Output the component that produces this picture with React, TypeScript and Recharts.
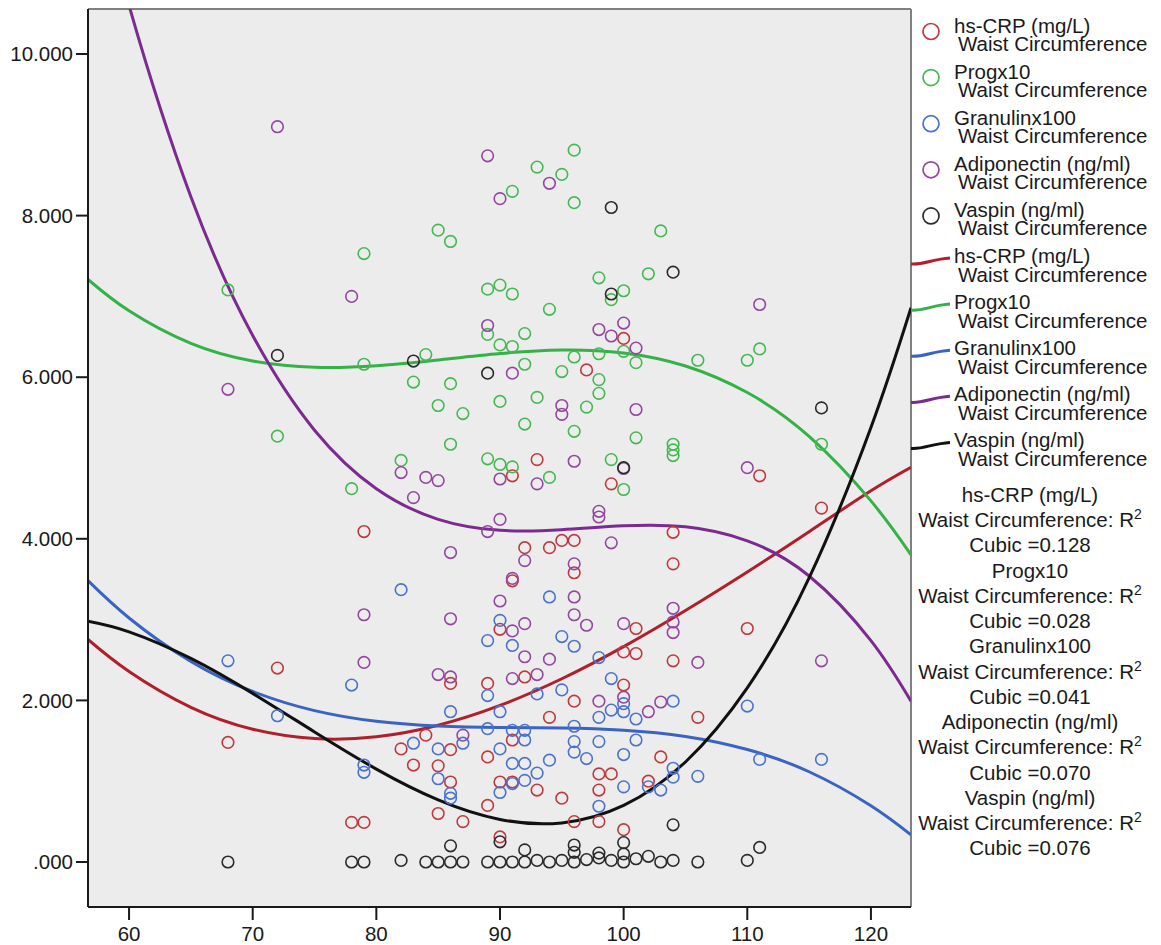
import React from 'react'
import { ComposedChart, Scatter, Line, XAxis, YAxis, CartesianGrid, ReferenceLine } from 'recharts'

// axis setup
const xTicks = [60, 70, 80, 90, 100, 110, 120]
const yTicks = [0, 2, 4, 6, 8, 10]
const xDomain = [56.68, 123.24]
const yDomain = [-0.557, 10.557]

const seriesNames = ['hs-CRP (mg/L)', 'Progx10', 'Granulinx100', 'Adiponectin (ng/ml)', 'Vaspin (ng/ml)']
const rSquared = ['0.128', '0.028', '0.041', '0.070', '0.076']
const dotColors = ['#c1393e', '#45b853', '#4a72cf', '#93479f', '#2a2a2a']
const lineColors = ['#b01f2c', '#34b248', '#3a63c2', '#7b2b8f', '#111111']

// scatter points: [waist circumference, value]
const crpPoints = [
  [68, 1.48], [72, 2.4], [78, 0.49], [79, 0.49], [79, 4.09], [82, 1.4], [83, 1.2], [84, 1.57], [85, 1.19], [85, 0.6],
  [86, 2.21], [86, 1.39], [86, 0.99], [87, 0.5], [89, 2.21], [89, 1.3], [89, 0.7], [90, 2.88], [90, 0.99], [90, 0.31],
  [91, 4.78], [91, 3.48], [91, 1.51], [91, 0.99], [92, 3.89], [92, 2.29], [93, 4.98], [93, 0.89], [94, 3.89], [94, 1.79],
  [95, 3.98], [95, 0.79], [96, 3.98], [96, 3.58], [96, 1.99], [96, 0.5], [97, 6.09], [98, 1.09], [98, 0.89], [98, 0.5],
  [99, 4.68], [99, 1.09], [100, 6.48], [100, 2.6], [100, 2.19], [100, 0.4], [101, 2.89], [101, 2.58], [102, 1.0], [103, 1.3],
  [104, 4.08], [104, 3.69], [104, 2.49], [106, 1.79], [110, 2.89], [111, 4.78], [116, 4.38],
]
const progPoints = [
  [68, 7.08], [72, 5.27], [78, 4.62], [79, 7.53], [79, 6.16], [82, 4.97], [83, 5.94], [84, 6.28], [85, 7.82], [85, 5.65],
  [86, 7.68], [86, 5.92], [86, 5.17], [87, 5.55], [89, 7.09], [89, 6.53], [89, 4.99], [90, 7.14], [90, 6.4], [90, 5.7],
  [90, 4.92], [91, 8.3], [91, 7.03], [91, 6.38], [91, 4.89], [92, 6.54], [92, 6.16], [92, 5.42], [93, 8.6], [93, 5.75],
  [94, 6.84], [94, 4.76], [95, 8.51], [95, 6.07], [96, 8.81], [96, 8.16], [96, 6.25], [96, 5.33], [97, 5.63], [98, 7.23],
  [98, 6.29], [98, 5.97], [98, 5.8], [99, 6.96], [99, 4.98], [100, 7.07], [100, 6.32], [100, 4.61], [101, 6.18], [101, 5.25],
  [102, 7.28], [103, 7.81], [104, 5.17], [104, 5.1], [104, 5.03], [106, 6.21], [110, 6.21], [111, 6.35], [116, 5.17],
]
const granPoints = [
  [68, 2.49], [72, 1.81], [78, 2.19], [79, 1.2], [79, 1.11], [82, 3.37], [83, 1.47], [85, 1.4], [85, 1.03], [86, 1.86],
  [86, 0.85], [86, 0.79], [87, 1.47], [89, 2.74], [89, 2.06], [89, 1.65], [90, 2.99], [90, 1.86], [90, 1.4], [90, 0.86],
  [91, 2.68], [91, 1.63], [91, 1.22], [91, 0.97], [92, 1.63], [92, 1.51], [92, 1.22], [92, 1.01], [93, 2.08], [93, 1.1],
  [94, 3.28], [94, 1.26], [95, 2.79], [95, 2.13], [96, 2.67], [96, 1.68], [96, 1.49], [96, 1.36], [97, 1.28], [98, 2.53],
  [98, 1.79], [98, 1.49], [98, 0.69], [99, 2.27], [99, 1.88], [100, 1.96], [100, 1.86], [100, 1.33], [100, 0.93], [101, 1.77],
  [101, 1.51], [102, 0.93], [103, 0.89], [104, 1.99], [104, 1.16], [104, 1.05], [106, 1.06], [110, 1.93], [111, 1.27], [116, 1.27],
]
const adipoPoints = [
  [68, 5.85], [72, 9.1], [78, 7.0], [79, 3.06], [79, 2.47], [82, 4.82], [83, 4.51], [84, 4.76], [85, 4.72], [85, 2.32],
  [86, 3.83], [86, 3.01], [86, 2.29], [87, 1.57], [89, 8.74], [89, 6.64], [89, 4.09], [90, 8.21], [90, 4.74], [90, 4.24],
  [90, 3.23], [91, 6.05], [91, 3.51], [91, 2.86], [91, 2.27], [92, 3.73], [92, 2.95], [92, 2.54], [93, 4.68], [93, 2.32],
  [94, 8.4], [94, 2.51], [95, 5.65], [95, 5.54], [96, 4.96], [96, 3.69], [96, 3.28], [96, 3.06], [97, 2.93], [98, 6.59],
  [98, 4.34], [98, 4.27], [98, 1.99], [99, 6.51], [99, 3.95], [100, 6.67], [100, 4.87], [100, 2.95], [100, 2.04], [101, 6.36],
  [101, 5.6], [102, 1.86], [103, 1.98], [104, 3.14], [104, 2.97], [104, 2.84], [106, 2.47], [110, 4.88], [111, 6.9], [116, 2.49],
]
const vaspinPoints = [
  [68, 0], [72, 6.27], [78, 0], [79, 0], [82, 0.02], [83, 6.2], [84, 0], [85, 0], [86, 0], [86, 0.2],
  [87, 0], [89, 6.05], [89, 0], [90, 0], [90, 0.25], [91, 0], [92, 0], [92, 0.15], [93, 0.02], [94, 0],
  [95, 0.02], [96, 0], [96, 0.12], [96, 0.21], [97, 0.03], [98, 0.05], [98, 0.11], [99, 8.1], [99, 7.03], [99, 0.02],
  [100, 4.88], [100, 0], [100, 0.1], [100, 0.24], [101, 0.04], [102, 0.07], [103, 0], [104, 7.3], [104, 0.46], [104, 0.02],
  [106, 0], [110, 0.02], [111, 0.18], [116, 5.62],
]

// cubic fit curves (smoothed readings)
const fitX = [56.68, 60, 65, 70, 75, 80, 85, 90, 95, 100, 105, 110, 115, 120, 123.24]
const crpFit = [2.754, 2.357, 1.914, 1.643, 1.528, 1.55, 1.693, 1.938, 2.268, 2.666, 3.113, 3.59, 4.088, 4.594, 4.885]
const progFit = [7.21, 6.821, 6.418, 6.2, 6.123, 6.142, 6.213, 6.293, 6.337, 6.3, 6.139, 5.81, 5.268, 4.469, 3.802]
const granFit = [3.482, 3.02, 2.482, 2.11, 1.873, 1.741, 1.682, 1.665, 1.659, 1.632, 1.554, 1.392, 1.117, 0.696, 0.336]
const adipoFit = [12.57, 10.6, 8.233, 6.515, 5.344, 4.62, 4.241, 4.105, 4.112, 4.16, 4.148, 3.975, 3.54, 2.74, 1.99]
const vaspinFit = [2.98, 2.849, 2.52, 2.087, 1.61, 1.15, 0.769, 0.527, 0.484, 0.7, 1.238, 2.155, 3.516, 5.378, 6.86]

const allPoints = [crpPoints, progPoints, granPoints, adipoPoints, vaspinPoints]
const allFits = [crpFit, progFit, granFit, adipoFit, vaspinFit]

const FONT = '"Liberation Sans", Arial, sans-serif'
const TEXT = '#1a1a1a'

const ring = (color: string) => (props: any) => (
  <circle cx={props.cx} cy={props.cy} r={5.8} fill="none" stroke={color} strokeWidth={1.6} />
)

function SideLegend() {
  const step = 46.1
  const r2Step = 25.24
  return (
    <svg width={1161} height={945} style={{ position: 'absolute', left: 0, top: 0, pointerEvents: 'none' }}>
      <g fontFamily={FONT} fontSize={20.5} fill={TEXT}>
        {seriesNames.map((name, i) => {
          const b = 32.5 + step * i
          return (
            <g key={'d' + i}>
              <circle cx={931} cy={b - 1} r={8} fill="none" stroke={dotColors[i]} strokeWidth={1.7} />
              <text x={954} y={b}>{name}</text>
              <text x={958} y={b + 18.5}>Waist Circumference</text>
            </g>
          )
        })}
        {seriesNames.map((name, i) => {
          const b = 32.5 + step * (i + 5)
          const y0 = b - 2
          return (
            <g key={'l' + i}>
              <path d={`M911,${y0 + 3} C923,${y0 + 4} 933,${y0 - 2} 950,${y0 - 3}`} fill="none" stroke={lineColors[i]} strokeWidth={3} />
              <text x={954} y={b}>{name}</text>
              <text x={958} y={b + 18.5}>Waist Circumference</text>
            </g>
          )
        })}
        {seriesNames.map((name, i) => {
          const b = 502 + r2Step * 3 * i
          return (
            <g key={'r' + i} textAnchor="middle">
              <text x={1030} y={b}>{name}</text>
              <text x={1030} y={b + r2Step}>
                Waist Circumference: R
                <tspan fontSize={14} dy={-8}>2</tspan>
              </text>
              <text x={1030} y={b + r2Step * 2}>Cubic ={rSquared[i]}</text>
            </g>
          )
        })}
      </g>
    </svg>
  )
}

export default function App() {
  const tick = { fill: TEXT, fontSize: 20.5, fontFamily: FONT }
  const axisStyle = { stroke: '#1a1a1a', strokeWidth: 2 }
  return (
    <div style={{ position: 'fixed', left: 0, top: 0, width: 1161, height: 945, background: '#fff' }}>
      <ComposedChart width={1161} height={945} margin={{ top: 9, right: 250, bottom: 0, left: 0 }}>
        <CartesianGrid fill="#ececec" horizontal={false} vertical={false} />
        <XAxis
          type="number"
          dataKey="x"
          domain={xDomain}
          ticks={xTicks}
          allowDataOverflow
          height={38}
          tick={tick}
          tickSize={13}
          tickMargin={6}
          axisLine={axisStyle}
          tickLine={axisStyle}
        />
        <YAxis
          type="number"
          dataKey="y"
          domain={yDomain}
          ticks={yTicks}
          allowDataOverflow
          width={88}
          tick={tick}
          tickSize={12}
          tickMargin={3}
          axisLine={axisStyle}
          tickLine={axisStyle}
          tickFormatter={(v: number) => (v === 0 ? '.000' : v.toFixed(3))}
        />
        <ReferenceLine y={yDomain[1]} stroke="#808080" strokeWidth={2} />
        <ReferenceLine x={xDomain[1]} stroke="#808080" strokeWidth={2} />
        {allPoints.map((pts, i) => (
          <Scatter
            key={'s' + i}
            name={seriesNames[i]}
            data={pts.map(([x, y]) => ({ x, y }))}
            shape={ring(dotColors[i])}
            isAnimationActive={false}
          />
        ))}
        {allFits.map((fit, i) => (
          <Line
            key={'f' + i}
            data={fitX.map((x, j) => ({ x, y: fit[j] }))}
            dataKey="y"
            type="natural"
            stroke={lineColors[i]}
            strokeWidth={3}
            dot={false}
            activeDot={false}
            isAnimationActive={false}
          />
        ))}
      </ComposedChart>
      <SideLegend />
    </div>
  )
}
